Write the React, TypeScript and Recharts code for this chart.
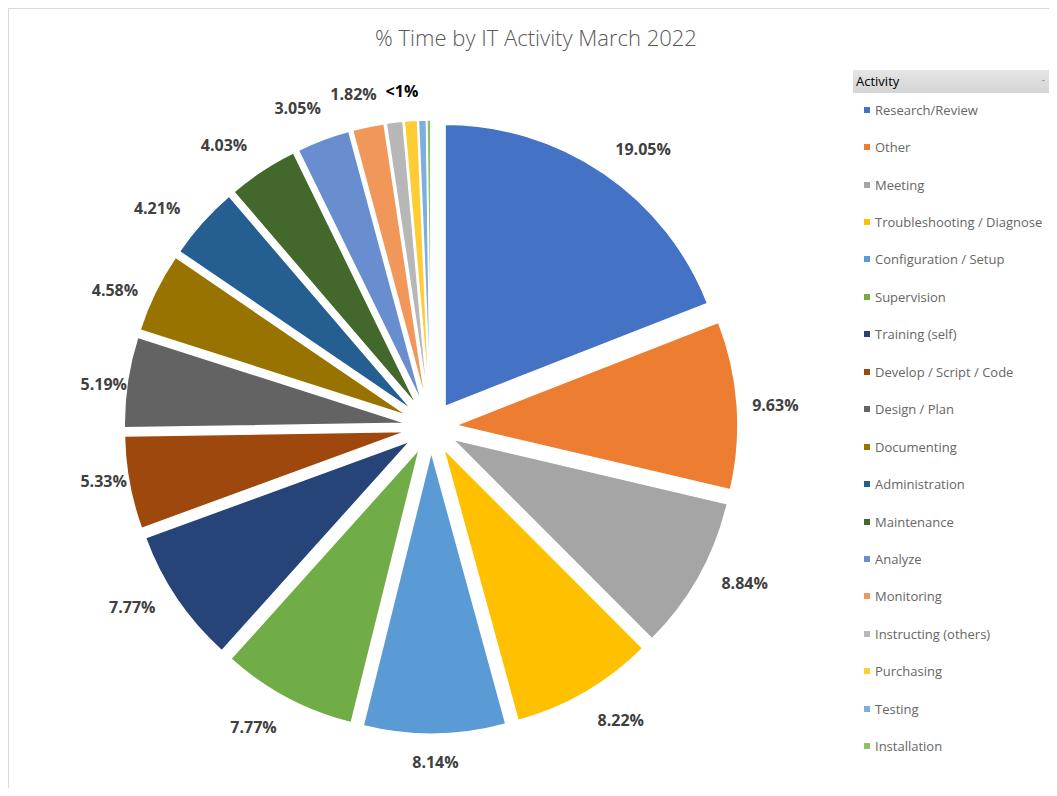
import React from 'react'
import { Cell, Legend, Pie, PieChart } from 'recharts'

const activities = [
  'Research/Review',
  'Other',
  'Meeting',
  'Troubleshooting / Diagnose',
  'Configuration / Setup',
  'Supervision',
  'Training (self)',
  'Develop / Script / Code',
  'Design / Plan',
  'Documenting',
  'Administration',
  'Maintenance',
  'Analyze',
  'Monitoring',
  'Instructing (others)',
  'Purchasing',
  'Testing',
  'Installation',
]

const shares = [
  19.05, 9.63, 8.84, 8.22, 8.14, 7.77, 7.77, 5.33, 5.19, 4.58, 4.21, 4.03, 3.05,
  1.82, 0.95, 0.75, 0.45, 0.22,
]

// Excel shows one "<1%" label for the four smallest slices
const sliceLabels = [
  '19.05%', '9.63%', '8.84%', '8.22%', '8.14%', '7.77%', '7.77%', '5.33%',
  '5.19%', '4.58%', '4.21%', '4.03%', '3.05%', '1.82%', '<1%', '', '', '',
]

const colors = [
  '#4472C4', '#ED7D31', '#A5A5A5', '#FFC000', '#5B9BD5', '#70AD47', '#264478',
  '#9E480E', '#636363', '#997300', '#255E91', '#43682B', '#698ED0', '#F1975A',
  '#B7B7B7', '#FFCD33', '#7CAFDD', '#8CC168',
]

const data = activities.map((name, i) => ({ name, value: shares[i] }))

const CX = 422
const CY = 418
const RADIUS = 282
const EXPLODE = 25
const FONT = '"Open Sans", "Noto Sans", sans-serif'

const total = shares.reduce((a, b) => a + b, 0)
const before = (i: number) => shares.slice(0, i).reduce((a, b) => a + b, 0)

// offset of each exploded slice along its own mid angle (clockwise from 12 o'clock)
const offsets = shares.map((v, i) => {
  const theta = ((before(i) + v / 2) / total) * 2 * Math.PI
  return { dx: EXPLODE * Math.sin(theta), dy: -EXPLODE * Math.cos(theta) }
})

// the "<1%" label sits at the middle of all the tiny slices together
const tiny = shares.map((v, i) => (v < 1 ? i : -1)).filter((i) => i >= 0)
const tinyMid =
  tiny.length > 0
    ? ((before(tiny[0]) + tiny.reduce((a, i) => a + shares[i], 0) / 2) / total) * 2 * Math.PI
    : 0

function makeLabel(target: number) {
  return (props: any) => {
    const { cx, cy, midAngle, outerRadius, index } = props
    if (index !== target || !sliceLabels[index]) return null
    const text = sliceLabels[index]
    // clockwise-from-top angle, diagonal labels lean toward the horizontal
    const base = text === '<1%' ? tinyMid : ((90 - midAngle) * Math.PI) / 180
    const theta = base + ((3.5 * Math.PI) / 180) * Math.sin(2 * base)
    const s = Math.sin(base)
    const side = Math.sign(s) * Math.pow(Math.abs(s), 12) * (s > 0 ? 8 : 11)
    const r = outerRadius + 28 + 16 * Math.abs(Math.sin(2 * base)) + side
    return (
      <text
        x={cx + r * Math.sin(theta)}
        y={cy - r * Math.cos(theta)}
        textAnchor="middle"
        dominantBaseline="central"
        fill={text === '<1%' ? '#000000' : '#404040'}
        fontFamily={FONT}
        fontSize={16}
        fontWeight={700}
      >
        {text}
      </text>
    )
  }
}

function ActivityLegend() {
  return (
    <div style={{ fontFamily: FONT, width: 202 }}>
      <div
        style={{
          height: 23,
          background: 'linear-gradient(#e6e6e6, #d4d4d4)',
          color: '#000',
          fontSize: 13,
          lineHeight: '23px',
          paddingLeft: 3,
          position: 'relative',
        }}
      >
        Activity
        <span style={{ position: 'absolute', right: 10, top: -2, color: '#8c8c8c', fontSize: 10 }}>-</span>
      </div>
      <div style={{ marginTop: -2 }}>
        {activities.map((name, i) => (
          <div key={name} style={{ height: 37.45, display: 'flex', alignItems: 'center' }}>
            <span
              style={{
                width: 6,
                height: 6,
                marginLeft: 11,
                marginRight: 5,
                background: colors[i],
                display: 'inline-block',
              }}
            />
            <span style={{ color: '#666666', fontSize: 13, whiteSpace: 'nowrap' }}>{name}</span>
          </div>
        ))}
      </div>
    </div>
  )
}

export default function App() {
  return (
    <div
      style={{
        position: 'relative',
        width: 1040,
        height: 779,
        borderLeft: '1px solid #d9d9d9',
        borderTop: '1px solid #d9d9d9',
        background: '#fff',
      }}
    >
      <div
        style={{
          position: 'absolute',
          left: 0,
          top: 14,
          width: 1054,
          textAlign: 'center',
          fontFamily: FONT,
          fontSize: 22,
          fontWeight: 300,
          lineHeight: '28px',
          color: '#595959',
        }}
      >
        % Time by IT Activity March 2022
      </div>
      <PieChart width={1040} height={779} margin={{ top: 0, right: 0, bottom: 0, left: 0 }}>
        {data.map((d, k) => (
          <Pie
            key={d.name}
            data={data}
            dataKey="value"
            nameKey="name"
            cx={CX + offsets[k].dx}
            cy={CY + offsets[k].dy}
            outerRadius={RADIUS}
            startAngle={90}
            endAngle={-270}
            labelLine={false}
            label={makeLabel(k)}
            isAnimationActive={false}
            legendType="none"
          >
            {data.map((e, i) => (
              <Cell
                key={e.name}
                fill={i === k ? colors[i] : 'transparent'}
                stroke={i === k ? '#ffffff' : 'none'}
                strokeWidth={i === k ? 1.5 : 0}
              />
            ))}
          </Pie>
        ))}
        <Legend
          layout="vertical"
          align="right"
          verticalAlign="top"
          wrapperStyle={{ left: 844, top: 61, width: 202 }}
          content={() => <ActivityLegend />}
        />
      </PieChart>
    </div>
  )
}
